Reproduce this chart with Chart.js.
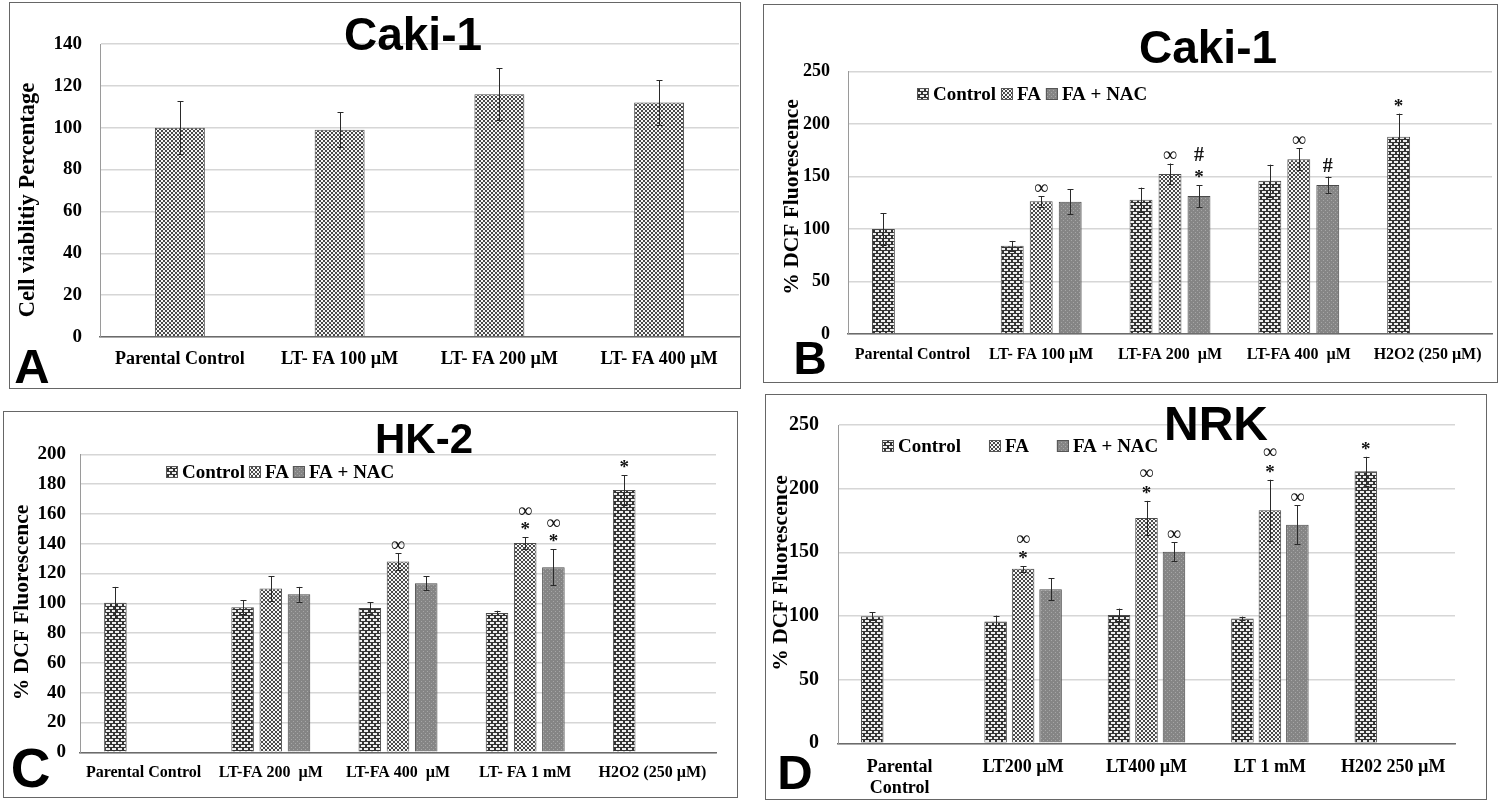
<!DOCTYPE html>
<html><head><meta charset="utf-8">
<script src="https://cdn.jsdelivr.net/npm/chart.js@4"></script>
<style>
html,body{margin:0;padding:0;background:#fff;width:1500px;height:804px;overflow:hidden;position:relative}
.box{position:absolute;border:1.5px solid #666;box-sizing:border-box}
canvas{position:absolute}
</style></head><body>
<div class="box" id="boxA"></div><div class="box" id="boxB"></div><div class="box" id="boxC"></div><div class="box" id="boxD"></div>
<canvas id="cA"></canvas><canvas id="cB"></canvas><canvas id="cC"></canvas><canvas id="cD"></canvas>
<script>
// ---------------- DATA ----------------
const seriesNames = ['Control', 'FA', 'FA + NAC'];

// Panel A – Caki-1 cell viability
const catsA = ['Parental Control', 'LT- FA 100 µM', 'LT- FA 200 µM', 'LT- FA 400 µM'];
const viabilityA = [100, 99, 116, 112];
const viabilityErrA = [12.7, 8.3, 12.5, 10.7];
const yTicksA = [0, 20, 40, 60, 80, 100, 120, 140];

// Panel B – Caki-1 DCF
const catsB = ['Parental Control', 'LT- FA 100 µM', 'LT-FA 200  µM', 'LT-FA 400  µM', 'H2O2 (250 µM)'];
const controlB = [100, 84, 128, 146, 188];
const controlErrB = [15, 4.7, 11.5, 15.4, 22];
const faB = [null, 126.5, 152.5, 166.5, null];
const faErrB = [null, 5, 10, 10.5, null];
const nacB = [null, 126, 131.5, 142, null];
const nacErrB = [null, 12, 10.5, 8, null];
const yTicksB = [0, 50, 100, 150, 200, 250];
const marksControlB = [[], [], [], [], ['*']];
const marksFaB = [[], ['∞'], ['∞'], ['∞'], []];
const marksNacB = [[], [], ['*', '#'], ['#'], []];

// Panel C – HK-2 DCF
const catsC = ['Parental Control', 'LT-FA 200  µM', 'LT-FA 400  µM', 'LT- FA 1 mM', 'H2O2 (250 µM)'];
const controlC = [100.4, 97.3, 96.9, 93.5, 176];
const controlErrC = [10.6, 4.7, 3.8, 1.5, 10];
const faC = [null, 110, 128, 140.5, null];
const faErrC = [null, 8.3, 5.6, 3.8, null];
const nacC = [null, 106, 113.4, 124.2, null];
const nacErrC = [null, 5, 4.6, 12, null];
const yTicksC = [0, 20, 40, 60, 80, 100, 120, 140, 160, 180, 200];
const marksControlC = [[], [], [], [], ['*']];
const marksFaC = [[], [], ['∞'], ['*', '∞'], []];
const marksNacC = [[], [], [], ['*', '∞'], []];

// Panel D – NRK DCF
const catsD = [['Parental', 'Control'], 'LT200 µM', 'LT400 µM', 'LT 1 mM', 'H202 250 µM'];
const controlD = [99.8, 95.6, 100.8, 98, 213.7];
const controlErrD = [3.2, 4.7, 5, 1.5, 11.3];
const faD = [null, 137, 177, 183, null];
const faErrD = [null, 2.2, 13.4, 24, null];
const nacD = [null, 121, 150.5, 171.6, null];
const nacErrD = [null, 8.8, 7.5, 15.2, null];
const yTicksD = [0, 50, 100, 150, 200, 250];
const marksControlD = [[], [], [], [], ['*']];
const marksFaD = [[], ['*', '∞'], ['*', '∞'], ['*', '∞'], []];
const marksNacD = [[], [], ['∞'], ['∞'], []];

// ---------------- STYLE ----------------
const SERIF = '"Liberation Serif", "Times New Roman", "DejaVu Serif", serif';
const SANS = '"Liberation Sans", Arial, sans-serif';

function makePattern(kind) {
  const c = document.createElement('canvas');
  const ctx = c.getContext('2d');
  if (kind === 'brick') {
    c.width = 6; c.height = 6;
    ctx.fillStyle = '#333'; ctx.fillRect(0, 0, 6, 6);
    ctx.fillStyle = '#eeeeee';
    ctx.fillRect(1, 1, 4, 2);
    ctx.fillRect(4, 4, 2, 2); ctx.fillRect(0, 4, 2, 2);
  } else if (kind === 'checker') {
    c.width = 4; c.height = 4;
    ctx.fillStyle = '#f6f6f6'; ctx.fillRect(0, 0, 4, 4);
    ctx.fillStyle = '#4a4a4a'; ctx.fillRect(0, 0, 2, 2); ctx.fillRect(2, 2, 2, 2);
  } else {
    c.width = 4; c.height = 4;
    ctx.fillStyle = '#858585'; ctx.fillRect(0, 0, 4, 4);
    ctx.fillStyle = '#a6a6a6'; ctx.fillRect(0, 0, 1, 1); ctx.fillRect(2, 2, 1, 1);
  }
  return document.createElement('canvas').getContext('2d').createPattern(c, 'repeat');
}
const patControl = makePattern('brick');
const patFA = makePattern('checker');
const patNAC = makePattern('dots');
const seriesPatterns = [patControl, patFA, patNAC];

const markFont = { '∞': '20px ' + SERIF, '*': 'bold 19px ' + SERIF, '#': 'bold 20px ' + SERIF };
const markGap = { '∞': 8, '*': 11, '#': 12 };

function glyphCentered(ctx, text, font, cx, cy) {
  ctx.font = font;
  ctx.textAlign = 'center';
  ctx.textBaseline = 'alphabetic';
  const m = ctx.measureText(text);
  ctx.fillText(text, cx, cy + (m.actualBoundingBoxAscent - m.actualBoundingBoxDescent) / 2);
}

function decor(p) {
  return {
    id: 'decor' + p.key,
    afterDatasetsDraw(chart) {
      const ctx = chart.ctx, ys = chart.scales.y;
      chart.data.datasets.forEach((ds, i) => {
        const meta = chart.getDatasetMeta(i);
        ds.data.forEach((v, j) => {
          if (v == null) return;
          const e = ds.errors[j];
          const el = meta.data[j];
          const x = Math.round(el.x) + 0.5;
          const yT = ys.getPixelForValue(v + e), yB = ys.getPixelForValue(v - e);
          ctx.save();
          ctx.strokeStyle = '#2a2a2a'; ctx.lineWidth = 1;
          ctx.beginPath();
          ctx.moveTo(x, yT); ctx.lineTo(x, yB);
          ctx.moveTo(x - 3, Math.round(yT) + 0.5); ctx.lineTo(x + 3, Math.round(yT) + 0.5);
          ctx.moveTo(x - 3, Math.round(yB) + 0.5); ctx.lineTo(x + 3, Math.round(yB) + 0.5);
          ctx.stroke();
          const marks = ds.marks ? ds.marks[j] : [];
          let cy = yT;
          ctx.fillStyle = '#111';
          marks.forEach((m, k) => {
            cy = k === 0 ? yT - markGap[m] : cy - p.markStep;
            glyphCentered(ctx, m, markFont[m], el.x, cy);
          });
          ctx.restore();
        });
      });
    },
    afterDraw(chart) {
      const ctx = chart.ctx;
      ctx.save();
      ctx.fillStyle = '#000';
      glyphCentered(ctx, p.title, 'bold ' + p.titleFont + 'px ' + SANS, p.titleX, p.titleY);
      glyphCentered(ctx, p.letter, 'bold ' + p.letterFont + 'px ' + SANS, p.letterX, p.letterY);
      // y axis title
      ctx.save();
      ctx.translate(p.yTitleX, p.yTitleY);
      ctx.rotate(-Math.PI / 2);
      ctx.font = 'bold ' + p.yTitleFont + 'px ' + SERIF;
      ctx.textAlign = 'center'; ctx.textBaseline = 'middle';
      ctx.fillText(p.yTitle, 0, 0);
      ctx.restore();
      // legend
      if (p.legend) {
        let x = p.legend.x;
        const cy = p.legend.y;
        ctx.font = 'bold 19px ' + SERIF;
        ctx.textAlign = 'left'; ctx.textBaseline = 'middle';
        chart.data.datasets.forEach((ds) => {
          ctx.fillStyle = ds.backgroundColor;
          ctx.fillRect(x, cy - 6, 12, 12);
          ctx.strokeStyle = '#555'; ctx.lineWidth = 1;
          ctx.strokeRect(x + 0.5, cy - 5.5, 11, 11);
          ctx.fillStyle = '#000';
          ctx.fillText(ds.label, x + 16, cy + 1);
          x += 16 + ctx.measureText(ds.label).width + p.legend.gap;
        });
      }
      ctx.restore();
    }
  };
}

function buildPanel(p) {
  const box = document.getElementById('box' + p.key);
  Object.assign(box.style, { left: p.x + 'px', top: p.y + 'px', width: p.w + 'px', height: p.h + 'px' });
  const cv = document.getElementById('c' + p.key);
  cv.width = p.w; cv.height = p.h;
  Object.assign(cv.style, { left: p.x + 'px', top: p.y + 'px', width: p.w + 'px', height: p.h + 'px' });
  const yt = p.yTicks;
  new Chart(cv.getContext('2d'), {
    type: 'bar',
    data: {
      labels: p.labels,
      datasets: p.series.map((s) => ({
        label: s.name, data: s.data, errors: s.err, marks: s.marks,
        backgroundColor: s.pattern, borderColor: '#4a4a4a', borderWidth: 1,
        categoryPercentage: p.catPct, barPercentage: p.barPct
      }))
    },
    options: {
      responsive: false, animation: false, devicePixelRatio: 1,
      layout: { padding: { top: p.plotTop, right: p.w - p.plotRight, left: 0, bottom: 0 } },
      plugins: { legend: { display: false }, tooltip: { enabled: false }, title: { display: false } },
      scales: {
        x: {
          grid: { display: false, drawTicks: false },
          border: { display: true, color: '#6b6b6b', width: 1.5 },
          ticks: { font: { family: SERIF, size: p.catFont, weight: 'bold' }, color: '#000', padding: p.catPad, maxRotation: 0, minRotation: 0, autoSkip: false },
          afterFit: (s) => { s.height = p.h - p.plotBottom; }
        },
        y: {
          min: yt[0], max: yt[yt.length - 1],
          ticks: { stepSize: yt[1] - yt[0], font: { family: SERIF, size: p.tickFont, weight: 'bold' }, color: '#000', padding: p.tickPad },
          grid: { color: '#d6d6d6', lineWidth: 1.5, drawTicks: false },
          border: { display: true, color: '#9a9a9a', width: 1 },
          afterFit: (s) => { s.width = p.plotLeft; }
        }
      }
    },
    plugins: [decor(p)]
  });
}

buildPanel({
  key: 'A', x: 9, y: 2, w: 732, h: 387,
  plotLeft: 91, plotTop: 42, plotRight: 730, plotBottom: 335,
  labels: catsA, yTicks: yTicksA,
  series: [{ name: 'Viability', data: viabilityA, err: viabilityErrA, marks: null, pattern: patFA }],
  catPct: 1, barPct: 0.3125,
  catFont: 18, catPad: 12, tickFont: 19, tickPad: 18,
  title: 'Caki-1', titleFont: 46, titleX: 404, titleY: 31,
  letter: 'A', letterFont: 49, letterX: 23, letterY: 364,
  yTitle: 'Cell viablitiy Percentage', yTitleFont: 22.5, yTitleX: 19, yTitleY: 198,
  legend: null, markStep: 18
});
buildPanel({
  key: 'B', x: 763, y: 4, w: 735, h: 379,
  plotLeft: 85, plotTop: 67.7, plotRight: 729, plotBottom: 330,
  labels: catsB, yTicks: yTicksB,
  series: [
    { name: seriesNames[0], data: controlB, err: controlErrB, marks: marksControlB, pattern: seriesPatterns[0] },
    { name: seriesNames[1], data: faB, err: faErrB, marks: marksFaB, pattern: seriesPatterns[1] },
    { name: seriesNames[2], data: nacB, err: nacErrB, marks: marksNacB, pattern: seriesPatterns[2] }
  ],
  catPct: 0.675, barPct: 0.79,
  catFont: 16, catPad: 11.4, tickFont: 18, tickPad: 18,
  title: 'Caki-1', titleFont: 46, titleX: 445, titleY: 42,
  letter: 'B', letterFont: 46, letterX: 47, letterY: 354,
  yTitle: '% DCF Fluorescence', yTitleFont: 21.5, yTitleX: 29, yTitleY: 193,
  legend: { x: 154, y: 90, gap: 5 }, markStep: 20
});
buildPanel({
  key: 'C', x: 3, y: 411, w: 735, h: 387,
  plotLeft: 77, plotTop: 43.3, plotRight: 713, plotBottom: 341.3,
  labels: catsC, yTicks: yTicksC,
  series: [
    { name: seriesNames[0], data: controlC, err: controlErrC, marks: marksControlC, pattern: seriesPatterns[0] },
    { name: seriesNames[1], data: faC, err: faErrC, marks: marksFaC, pattern: seriesPatterns[1] },
    { name: seriesNames[2], data: nacC, err: nacErrC, marks: marksNacC, pattern: seriesPatterns[2] }
  ],
  catPct: 0.665, barPct: 0.8,
  catFont: 16, catPad: 11, tickFont: 19, tickPad: 14,
  title: 'HK-2', titleFont: 42, titleX: 421, titleY: 27,
  letter: 'C', letterFont: 55, letterX: 27.5, letterY: 357,
  yTitle: '% DCF Fluorescence', yTitleFont: 21.5, yTitleX: 19, yTitleY: 191.5,
  legend: { x: 163, y: 61, gap: 4 }, markStep: 15
});
buildPanel({
  key: 'D', x: 765, y: 394, w: 722, h: 406,
  plotLeft: 73, plotTop: 30.3, plotRight: 690, plotBottom: 349.3,
  labels: catsD, yTicks: yTicksD,
  series: [
    { name: seriesNames[0], data: controlD, err: controlErrD, marks: marksControlD, pattern: seriesPatterns[0] },
    { name: seriesNames[1], data: faD, err: faErrD, marks: marksFaD, pattern: seriesPatterns[1] },
    { name: seriesNames[2], data: nacD, err: nacErrD, marks: marksNacD, pattern: seriesPatterns[2] }
  ],
  catPct: 0.668, barPct: 0.82,
  catFont: 18, catPad: 13, tickFont: 20, tickPad: 19,
  title: 'NRK', titleFont: 48, titleX: 451, titleY: 29,
  letter: 'D', letterFont: 49, letterX: 30, letterY: 378,
  yTitle: '% DCF Fluorescence', yTitleFont: 21.5, yTitleX: 16, yTitleY: 179,
  legend: { x: 117, y: 52, gap: 28 }, markStep: 16
});
</script>
</body></html>
